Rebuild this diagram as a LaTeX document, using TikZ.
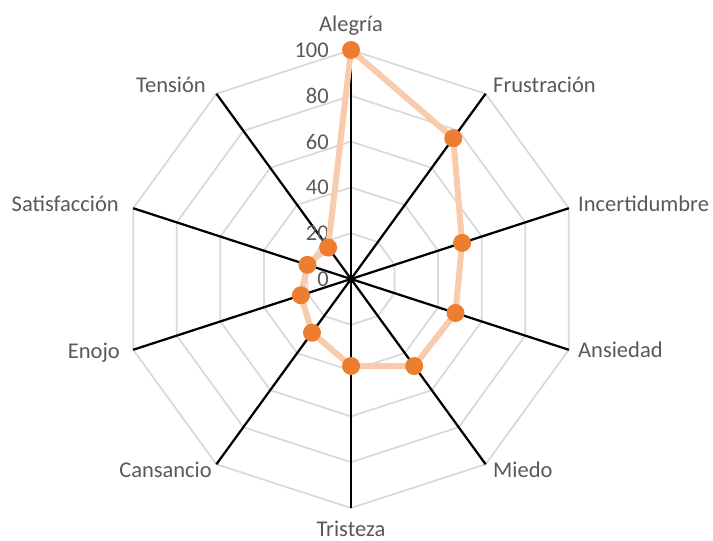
\documentclass[tikz,border=0pt]{standalone}
\usepackage{fontspec}
\setmainfont{Carlito}
\usepackage{xcolor}
\usepackage{tikz}
\usetikzlibrary{positioning}

\definecolor{gridgray}{HTML}{D9D9D9}
\definecolor{textgray}{HTML}{595959}
\definecolor{serieslight}{HTML}{F8CBAD}
\definecolor{seriesdot}{HTML}{ED7D31}

\begin{document}
\begin{tikzpicture}[x=1pt, y=1pt,
    axislabel/.style={font=\fontsize{22.5}{26}\selectfont, text=textgray, inner sep=0pt},
    ticklabel/.style={font=\fontsize{22.5}{26}\selectfont, text=textgray, inner sep=0pt, anchor=east},
    gridline/.style={draw=gridgray, line width=1.75pt},
    axisline/.style={draw=black, line width=2.25pt},
    seriesline/.style={draw=serieslight, line width=6pt, line join=round},
    dot/.style={circle, fill=seriesdot, minimum size=18pt, inner sep=0pt}]
    \useasboundingbox (-351,-262) rectangle (362,279);
    \coordinate (center) at (0,0);

    % Axis ends
    \coordinate (alegria) at (90:229);
    \coordinate (frustracion) at (54:229);
    \coordinate (incertidumbre) at (18:229);
    \coordinate (ansiedad) at (-18:229);
    \coordinate (miedo) at (-54:229);
    \coordinate (tristeza) at (-90:229);
    \coordinate (cansancio) at (-126:229);
    \coordinate (enojo) at (-162:229);
    \coordinate (satisfaccion) at (162:229);
    \coordinate (tension) at (126:229);

    % Grid
    \foreach \r in {45.8,91.6,137.4,183.2,229}
        \draw[gridline] (90:\r) -- (54:\r) -- (18:\r) -- (-18:\r) -- (-54:\r) -- (-90:\r)
            -- (-126:\r) -- (-162:\r) -- (162:\r) -- (126:\r) -- cycle;

    % Axes
    \draw[axisline] (center) -- (alegria);
    \draw[axisline] (center) -- (frustracion);
    \draw[axisline] (center) -- (incertidumbre);
    \draw[axisline] (center) -- (ansiedad);
    \draw[axisline] (center) -- (miedo);
    \draw[axisline] (center) -- (tristeza);
    \draw[axisline] (center) -- (cansancio);
    \draw[axisline] (center) -- (enojo);
    \draw[axisline] (center) -- (satisfaccion);
    \draw[axisline] (center) -- (tension);

    % Tick labels
    \node[ticklabel] (tick0) at (-22,0) {0};
    \node[ticklabel] (tick20) at (-22,45.8) {20};
    \node[ticklabel] (tick40) at (-22,91.6) {40};
    \node[ticklabel] (tick60) at (-22,137.4) {60};
    \node[ticklabel] (tick80) at (-22,183.2) {80};
    \node[ticklabel] (tick100) at (-22,229) {100};

    % Axis labels
    \node[axislabel, anchor=base] (lbl_alegria) at (0,247) {Alegría};
    \node[axislabel, anchor=base west] (lbl_frustracion) at (142,186) {Frustración};
    \node[axislabel, anchor=base west] (lbl_incertidumbre) at (227,67) {Incertidumbre};
    \node[axislabel, anchor=base west] (lbl_ansiedad) at (227,-78) {Ansiedad};
    \node[axislabel, anchor=base west] (lbl_miedo) at (142,-198) {Miedo};
    \node[axislabel, anchor=base] (lbl_tristeza) at (0,-257) {Tristeza};
    \node[axislabel, anchor=base east] (lbl_cansancio) at (-139,-198) {Cansancio};
    \node[axislabel, anchor=base east] (lbl_enojo) at (-231,-79) {Enojo};
    \node[axislabel, anchor=base east] (lbl_satisfaccion) at (-232,67) {Satisfacción};
    \node[axislabel, anchor=base east] (lbl_tension) at (-145,186) {Tensión};

    % Series values
    \coordinate (p_alegria) at (90:229);
    \coordinate (p_frustracion) at (54:174);
    \coordinate (p_incertidumbre) at (18:116.8);
    \coordinate (p_ansiedad) at (-18:109.9);
    \coordinate (p_miedo) at (-54:107.6);
    \coordinate (p_tristeza) at (-90:87);
    \coordinate (p_cansancio) at (-126:66.4);
    \coordinate (p_enojo) at (-162:52.7);
    \coordinate (p_satisfaccion) at (162:45.8);
    \coordinate (p_tension) at (126:38.9);

    \draw[seriesline] (p_alegria) -- (p_frustracion) -- (p_incertidumbre) -- (p_ansiedad)
        -- (p_miedo) -- (p_tristeza) -- (p_cansancio) -- (p_enojo) -- (p_satisfaccion)
        -- (p_tension) -- cycle;

    % Markers
    \node[dot] (d_alegria) at (p_alegria) {};
    \node[dot] (d_frustracion) at (p_frustracion) {};
    \node[dot] (d_incertidumbre) at (p_incertidumbre) {};
    \node[dot] (d_ansiedad) at (p_ansiedad) {};
    \node[dot] (d_miedo) at (p_miedo) {};
    \node[dot] (d_tristeza) at (p_tristeza) {};
    \node[dot] (d_cansancio) at (p_cansancio) {};
    \node[dot] (d_enojo) at (p_enojo) {};
    \node[dot] (d_satisfaccion) at (p_satisfaccion) {};
    \node[dot] (d_tension) at (p_tension) {};
\end{tikzpicture}
\end{document}
